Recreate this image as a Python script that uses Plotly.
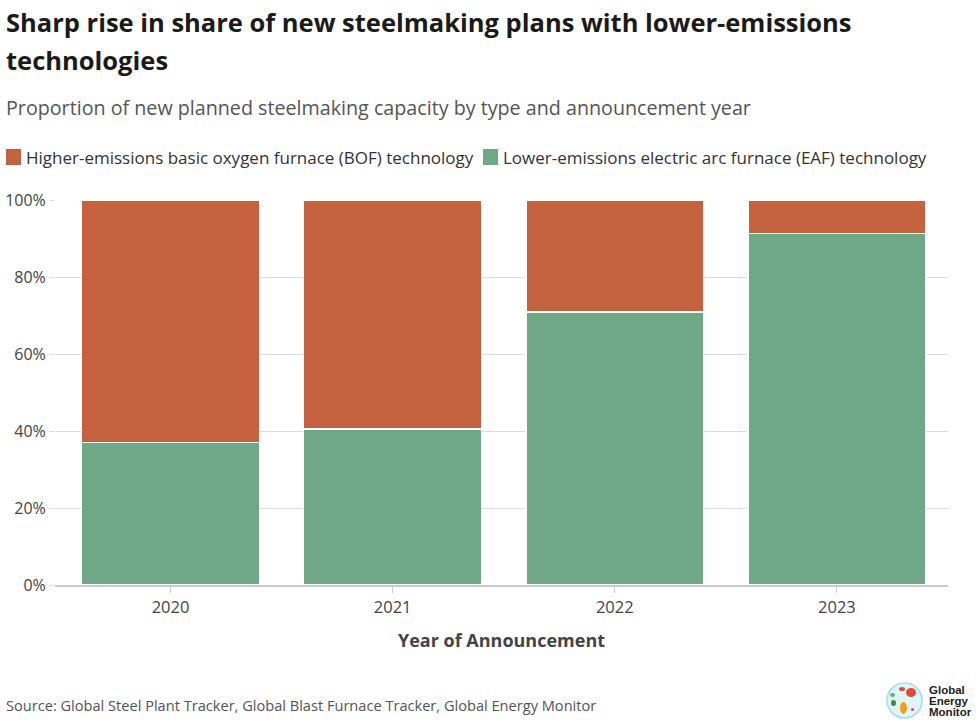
import plotly.graph_objects as go

years = ["2020", "2021", "2022", "2023"]
eaf_share = [37.1, 40.5, 70.9, 91.4]
bof_share = [62.9, 59.5, 29.1, 8.6]
y_ticks = [0, 20, 40, 60, 80, 100]
y_tick_labels = ["0%", "20%", "40%", "60%", "80%", "100%"]
bof_name = "Higher-emissions basic oxygen furnace (BOF) technology"
eaf_name = "Lower-emissions electric arc furnace (EAF) technology"

FONT = "Open Sans"
BOF_COLOR = "#C4623F"
EAF_COLOR = "#6EA886"

L, R, T, B = 55, 32, 200, 140
W, H = 980, 725
PW, PH = W - L - R, H - T - B


def px(x):
    return (x - L) / PW


def py(y):
    return (H - B - y) / PH


fig = go.Figure()
fig.add_trace(go.Bar(
    x=years, y=eaf_share, name=eaf_name,
    marker=dict(color=EAF_COLOR, line=dict(color="white", width=1.2)), width=0.8,
))
fig.add_trace(go.Bar(
    x=years, y=bof_share, name=bof_name,
    marker=dict(color=BOF_COLOR, line=dict(color="white", width=1.2)), width=0.8,
))

fig.update_layout(
    barmode="stack",
    width=W, height=H,
    margin=dict(l=L, r=R, t=T, b=B, autoexpand=False),
    paper_bgcolor="white", plot_bgcolor="white",
    font=dict(family=FONT, color="#333333"),
    showlegend=False,
    xaxis=dict(
        type="category", range=[-0.52, 3.5], automargin=False,
        showgrid=False, showline=True, linecolor="#cccccc", linewidth=1.5,
        ticks="outside", ticklen=6, tickcolor="#cccccc",
        tickfont=dict(size=16.5, color="#444444"),
        title=dict(text="<b>Year of Announcement</b>", font=dict(size=18, color="#444444"), standoff=18),
    ),
    yaxis=dict(
        range=[0, 100], tickvals=y_ticks, ticktext=y_tick_labels, automargin=False,
        showgrid=True, gridcolor="#dddddd", gridwidth=1.2, zeroline=False,
        ticks="outside", ticklen=5, tickcolor="#dddddd",
        tickfont=dict(size=16, color="#444444"),
    ),
)

# Title lines
for txt, yy in [("<b>Sharp rise in share of new steelmaking plans with lower-emissions</b>", 22),
                ("<b>technologies</b>", 60)]:
    fig.add_annotation(text=txt, xref="paper", yref="paper", x=px(4), y=py(yy),
                       xanchor="left", yanchor="middle", showarrow=False,
                       font=dict(size=25.5, color="#1a1a1a"))

fig.add_annotation(
    text="Proportion of new planned steelmaking capacity by type and announcement year",
    xref="paper", yref="paper", x=px(4), y=py(107), xanchor="left", yanchor="middle",
    showarrow=False, font=dict(size=19.7, color="#555555"),
)

# Legend (manual)
for name, color, sx in [(bof_name, BOF_COLOR, 6), (eaf_name, EAF_COLOR, 483)]:
    fig.add_shape(type="rect", xref="paper", yref="paper",
                  x0=px(sx), x1=px(sx + 15), y0=py(165), y1=py(149),
                  fillcolor=color, line=dict(width=0))
    fig.add_annotation(text=name, xref="paper", yref="paper", x=px(sx + 18), y=py(157),
                       xanchor="left", yanchor="middle", showarrow=False,
                       font=dict(size=17, color="#333333"))

fig.add_annotation(
    text="Source: Global Steel Plant Tracker, Global Blast Furnace Tracker, Global Energy Monitor",
    xref="paper", yref="paper", x=px(4), y=py(705), xanchor="left", yanchor="middle",
    showarrow=False, font=dict(size=14.6, color="#555555"),
)

# Logo
for txt, yy in [("Global", 690), ("Energy", 701), ("Monitor", 712)]:
    fig.add_annotation(text="<b>" + txt + "</b>", xref="paper", yref="paper", x=px(927), y=py(yy),
                       xanchor="left", yanchor="middle", showarrow=False,
                       font=dict(size=11.5, color="#222222", family="Liberation Sans"))
fig.add_shape(type="circle", xref="paper", yref="paper",
              x0=px(887), x1=px(922), y0=py(718), y1=py(683),
              fillcolor="#dff5f8", line=dict(color="#9fe0ec", width=1.5))
for (x0, y0, x1, y1, c) in [(899, 687, 905, 691, "#e8473c"), (906, 688, 916, 697, "#e8473c"),
                            (890, 693, 895, 697, "#5cb85c"), (891, 700, 896, 706, "#3c8d3c"),
                            (900, 702, 907, 714, "#f0a020"), (911, 708, 914, 711, "#d63a9a")]:
    fig.add_shape(type="circle", xref="paper", yref="paper",
                  x0=px(x0), x1=px(x1), y0=py(y1), y1=py(y0),
                  fillcolor=c, line=dict(width=0))

fig.write_html("out.html", config={"displayModeBar": False},
               post_script="document.body.style.margin='0px';")
